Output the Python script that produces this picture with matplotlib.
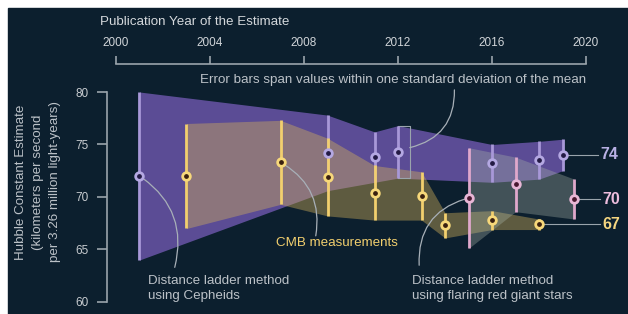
import matplotlib
matplotlib.use("Agg")
import matplotlib.pyplot as plt
from matplotlib.patches import Rectangle

plt.rcParams['font.family'] = ['Liberation Sans', 'DejaVu Sans']

# Cepheid distance ladder estimates
ceph_year = [2001, 2009, 2011, 2012, 2016, 2018, 2019]
ceph_val = [72.0, 74.2, 73.8, 74.3, 73.2, 73.5, 74.0]
ceph_err = [8.0, 3.6, 2.4, 2.5, 1.8, 1.8, 1.5]

# CMB estimates
cmb_year = [2003, 2007, 2009, 2011, 2013, 2014, 2016, 2018]
cmb_val = [72.0, 73.3, 71.9, 70.4, 70.1, 67.3, 67.8, 67.4]
cmb_err = [5.0, 4.0, 3.7, 2.6, 2.3, 1.2, 0.9, 0.5]

# red giant (TRGB) estimates
trgb_year = [2015, 2017, 2019.5]
trgb_val = [69.9, 71.2, 69.8]
trgb_err = [4.8, 2.6, 1.9]

year_ticks = [2000, 2004, 2008, 2012, 2016, 2020]
val_ticks = [60, 65, 70, 75, 80]

bg = '#0c1f2e'
grey_txt = '#bcc2c8'
line_col = '#9aa4ac'
fs = 9.6

fig = plt.figure(figsize=(6.28, 3.14), dpi=100, facecolor='white')
fig.patches.append(Rectangle((8 / 628, 0), 1 - 8 / 628, 1 - 8 / 314,
                             transform=fig.transFigure, color=bg, zorder=-5))
ax = fig.add_axes([0, 0, 1, 1])
ax.set_zorder(2)
ax.set_facecolor('none')
ax.set_xlim(1995.064, 2021.787)
ax.set_ylim(58.857, 88.762)


def band(years, vals, errs, color, alpha):
    lo = [v - e for v, e in zip(vals, errs)]
    hi = [v + e for v, e in zip(vals, errs)]
    ax.fill_between(years, lo, hi, color=color, alpha=alpha, lw=0, zorder=1)


def bars(years, vals, errs, color):
    for x, v, e in zip(years, vals, errs):
        ax.plot([x, x], [v - e, v + e], color=color, lw=2.0,
                solid_capstyle='butt', zorder=3)


def points(years, vals, ring, dot):
    ax.plot(years, vals, 'o', ms=5.5, mfc=dot, mec=ring, mew=2.0,
            ls='none', zorder=5)


band(ceph_year, ceph_val, ceph_err, '#6a55a8', 0.85)
band(cmb_year, cmb_val, cmb_err, '#d2b05a', 0.42)
band(trgb_year, trgb_val, trgb_err, '#a8b4a8', 0.35)

bars(ceph_year, ceph_val, ceph_err, '#a898d8')
bars(cmb_year, cmb_val, cmb_err, '#f2cf6e')
bars(trgb_year, trgb_val, trgb_err, '#e0a8cc')

points(ceph_year, ceph_val, '#b4a8e2', '#231a44')
points(cmb_year, cmb_val, '#f7d87a', '#3a2010')
points(trgb_year, trgb_val, '#e8b6d6', '#4a1830')

# bracket around the 2012 error bar
i = ceph_year.index(2012)
top, bot = ceph_val[i] + ceph_err[i], ceph_val[i] - ceph_err[i]
ax.plot([2012, 2012.5, 2012.5, 2012], [top, top, bot, bot],
        color=line_col, lw=0.8, zorder=2)

# leader lines + end labels
ax.plot([ceph_year[-1], 2020.5], [ceph_val[-1]] * 2, color=line_col, lw=0.8, zorder=2)
ax.plot([trgb_year[-1], 2020.6], [trgb_val[-1]] * 2, color=line_col, lw=0.8, zorder=2)
ax.plot([cmb_year[-1], 2020.6], [cmb_val[-1]] * 2, color=line_col, lw=0.8, zorder=2)
ax.text(2020.6, ceph_val[-1], '74', color='#b8b0e4', fontsize=11.5,
        fontweight='bold', va='center', ha='left')
ax.text(2020.7, trgb_val[-1], '70', color='#ecbcdc', fontsize=11.5,
        fontweight='bold', va='center', ha='left')
ax.text(2020.7, cmb_val[-1], '67', color='#f4d580', fontsize=11.5,
        fontweight='bold', va='center', ha='left')

# spines / ticks
for s in ['right', 'bottom']:
    ax.spines[s].set_visible(False)
ax.spines['left'].set_position(('data', 1999.617))
ax.spines['left'].set_bounds(60, 80)
ax.spines['top'].set_position(('data', 82.667))
ax.spines['top'].set_bounds(2000, 2020)
for s in ['left', 'top']:
    ax.spines[s].set_color(line_col)
    ax.spines[s].set_linewidth(1.2)
ax.xaxis.set_ticks_position('top')
ax.set_xticks(year_ticks)
ax.set_xticklabels([str(y) for y in year_ticks])
ax.set_yticks(val_ticks)
ax.set_yticklabels([str(v) for v in val_ticks])
ax.tick_params(axis='x', direction='out', length=6, width=1.2, color=line_col,
               labelcolor='#d0d4d8', labelsize=8.5, pad=5)
ax.tick_params(axis='y', direction='out', length=7, width=1.2, color=line_col,
               labelcolor='#c8ccd0', labelsize=8.5, pad=6)

fig.text(100 / 628, 1 - 22 / 314, 'Publication Year of the Estimate',
         color='#d4d8dc', fontsize=fs, ha='left', va='center')
fig.text(38 / 628, 1 - 182 / 314,
         'Hubble Constant Estimate\n(kilometers per second\nper 3.26 million light-years)',
         color=grey_txt, fontsize=9.6, rotation=90, ha='center', va='center',
         multialignment='center', linespacing=1.55)

# annotations
ax.text(2011.79, 81.14,
        'Error bars span values within one standard deviation of the mean',
        color=grey_txt, fontsize=fs, ha='center', va='center')
ax.text(2006.81, 65.62, 'CMB measurements', color='#f2cf6e', fontsize=fs,
        ha='left', va='center')
ax.text(2001.36, 61.25, 'Distance ladder method\nusing Cepheids', color=grey_txt,
        fontsize=fs, ha='left', va='center', linespacing=1.32)
ax.text(2012.6, 61.25, 'Distance ladder method\nusing flaring red giant stars',
        color=grey_txt, fontsize=fs, ha='left', va='center', linespacing=1.32)

conn = dict(arrowstyle='-', color='#a8b0b8', lw=0.9, shrinkA=3, shrinkB=0)
ax.annotate('', xy=(2002.5, 63.3), xytext=(ceph_year[0], ceph_val[0]),
            arrowprops=dict(conn, connectionstyle='arc3,rad=-0.35'))
ax.annotate('', xy=(2008.5, 66.3), xytext=(cmb_year[1], cmb_val[1]),
            arrowprops=dict(conn, connectionstyle='arc3,rad=-0.35'))
ax.annotate('', xy=(2012.5, 74.7), xytext=(2014.4, 80.2),
            arrowprops=dict(conn, shrinkA=0, connectionstyle='arc3,rad=-0.4'))
ax.annotate('', xy=(2012.9, 63.5), xytext=(trgb_year[0], trgb_val[0]),
            arrowprops=dict(conn, connectionstyle='arc3,rad=0.4'))

fig.savefig('out.png', dpi=100, facecolor='white')
